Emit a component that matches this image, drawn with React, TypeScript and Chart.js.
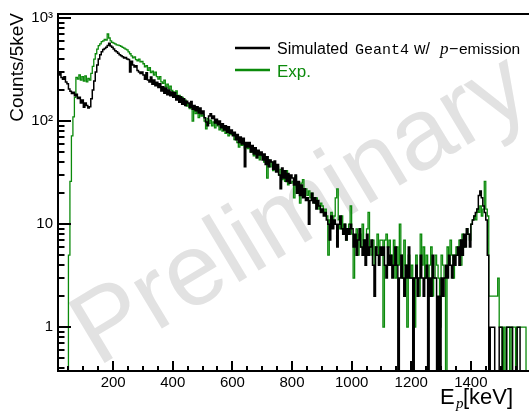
import React, { useEffect, useRef } from 'react';
import { Chart, registerables } from 'chart.js';

Chart.register(...registerables);

// histogram binning (keV)
const BIN_START = 0;
const BIN_WIDTH = 5;

// Simulated Geant4 w/ p-emission, counts per 5 keV bin starting at 0 keV (rows of 50 keV)
const simCounts = [
  285, 290, 270, 280, 300, 265, 255, 270, 240, 230,
  205, 195, 185, 190, 176, 182, 166, 170, 150, 160,
  136, 150, 142, 134, 138, 165, 200, 245, 300, 350,
  400, 440, 470, 495, 505, 520, 540, 570, 535, 520,
  500, 480, 470, 455, 440, 430, 420, 410, 415, 400,
  395, 300, 380, 350, 335, 345, 310, 300, 290, 300,
  280, 255, 295, 250, 240, 268, 228, 250, 220, 238,
  212, 230, 196, 215, 186, 210, 180, 200, 176, 192,
  170, 188, 160, 176, 152, 172, 146, 165, 142, 156,
  150, 136, 155, 130, 142, 126, 138, 120, 134, 118,
  125, 108, 98, 90, 112, 118, 106, 112, 96, 104,
  92, 100, 86, 94, 82, 90, 78, 88, 76, 82,
  72, 78, 66, 74, 62, 70, 60, 68, 36, 62,
  56, 62, 50, 58, 48, 55, 44, 52, 47, 50,
  42, 48, 38, 45, 36, 42, 40, 34, 41, 32,
  38, 30, 22, 35, 28, 33, 26, 31, 25, 30,
  28, 24, 30, 20, 26, 19, 24, 18, 22, 17,
  18, 10, 17, 20, 16, 18, 14, 17, 15, 13,
  14, 12, 13, 11, 10, 7, 12, 9, 11, 10,
  6, 10, 12, 9, 8, 10, 7, 9, 8, 10,
  9, 6, 8, 5, 7, 9, 6, 5, 7, 4,
  8, 5, 6, 7, 4, 2, 6, 5, 4, 6,
  5, 6, 4, 3, 6, 4, 5, 3, 4, 6,
  4, 0, 3, 5, 3, 2, 4, 3, 6, 3,
  3, 0, 3, 4, 2, 3, 5, 3, 2, 3,
  4, 0, 3, 2, 5, 3, 3, 0, 2, 0,
  3, 2, 3, 4, 3, 5, 4, 3, 5, 4,
  5, 6, 4, 7, 5, 8, 6, 9, 8, 6,
  10, 11, 12, 13, 14, 19, 21, 18, 15, 13,
  11, 5, 0, 1, 1, 1, 0, 0, 0, 1,
  1, 0, 0, 0, 1, 1, 1, 1, 0, 0,
  0, 1, 1, 0, 0, 0, 0, 0, 0, 0,
];

// Experimental data, counts per 5 keV bin starting at 0 keV (rows of 50 keV)
const expCounts = [
  0, 0, 0, 0, 0, 0, 0, 0, 0, 0,
  5, 26, 72, 110, 170, 265, 255, 280, 250, 270,
  245, 275, 240, 260, 250, 290, 340, 400, 450, 500,
  540, 560, 590, 600, 620, 610, 700, 640, 600, 580,
  570, 560, 550, 545, 540, 530, 520, 510, 500, 490,
  470, 450, 430, 410, 420, 395, 385, 400, 375, 380,
  360, 335, 345, 310, 330, 295, 305, 280, 298, 270,
  255, 270, 240, 232, 250, 215, 228, 205, 218, 198,
  192, 180, 196, 165, 178, 158, 170, 145, 160, 140,
  148, 132, 140, 100, 128, 118, 130, 108, 124, 112,
  115, 100, 84, 106, 95, 102, 90, 98, 86, 96,
  90, 82, 94, 80, 88, 76, 84, 72, 80, 74,
  76, 66, 72, 62, 56, 66, 58, 64, 55, 60,
  54, 60, 50, 56, 46, 52, 44, 50, 42, 48,
  46, 40, 44, 28, 42, 36, 40, 33, 38, 34,
  36, 30, 34, 27, 31, 26, 33, 24, 29, 25,
  26, 18, 29, 23, 21, 16, 25, 27, 20, 22,
  19, 21, 18, 20, 17, 16, 18, 15, 14, 16,
  15, 13, 14, 12, 5, 11, 13, 10, 12, 18,
  22, 11, 9, 12, 8, 10, 7, 9, 10, 15,
  8, 3, 7, 9, 5, 8, 6, 10, 7, 5,
  9, 13, 6, 5, 7, 4, 6, 8, 5, 7,
  7, 1, 7, 8, 6, 7, 5, 4, 7, 3,
  6, 4, 10, 5, 3, 7, 4, 1, 5, 3,
  4, 3, 1, 5, 3, 2, 8, 4, 6, 3,
  5, 3, 4, 6, 2, 3, 5, 4, 3, 1,
  5, 4, 3, 0, 6, 4, 7, 5, 3, 5,
  6, 5, 7, 4, 8, 6, 7, 9, 8, 7,
  10, 11, 12, 11, 14, 13, 15, 12, 14, 26,
  14, 12, 2, 2, 2, 2, 2, 2, 3, 1,
  1, 0, 1, 0, 1, 1, 0, 1, 1, 1,
  0, 1, 1, 1, 1, 1, 1, 0, 0, 0,
];

const xTickValues = [200, 400, 600, 800, 1000, 1200, 1400];
const yTickValues = [1, 10, 100, 1000];
const yTickLabels = ['1', '10', '10\u00B2', '10\u00B3'];

const X_MIN = 15;
const X_MAX = 1595;
const Y_MIN = 0.376;
const Y_MAX = 1094;

const BLACK = '#000000';
const GREEN = '#0b8a0b';

function toSteps(counts: number[]) {
  const pts = counts.map((c, i) => ({ x: BIN_START + i * BIN_WIDTH, y: c > 0 ? c : 0.05 }));
  pts.push({ x: BIN_START + counts.length * BIN_WIDTH, y: pts[pts.length - 1].y });
  return pts;
}

const decor = {
  id: 'decor',
  beforeDatasetsDraw(chart: any) {
    const { ctx } = chart;
    ctx.save();
    ctx.translate(316, 236);
    ctx.rotate((-31 * Math.PI) / 180);
    ctx.font = '102px "Liberation Sans"';
    ctx.fillStyle = '#e2e2e2';
    ctx.textAlign = 'center';
    ctx.textBaseline = 'alphabetic';
    ctx.fillText('Preliminary', 0, 0);
    ctx.restore();
  },
  afterDatasetsDraw(chart: any) {
    const { ctx, chartArea: a, scales } = chart;
    const xs = scales.x;
    const ys = scales.y;
    ctx.save();
    ctx.strokeStyle = '#000';
    ctx.lineWidth = 2;
    ctx.beginPath();
    for (let v = 50; v < X_MAX; v += 50) {
      if (v < X_MIN) continue;
      const px = Math.round(xs.getPixelForValue(v));
      const len = v % 200 === 0 ? 10 : 5;
      ctx.moveTo(px, a.bottom);
      ctx.lineTo(px, a.bottom - len);
    }
    for (let e = -1; e <= 3; e++) {
      for (let m = 1; m < 10; m++) {
        const v = m * Math.pow(10, e);
        if (v < Y_MIN || v > Y_MAX) continue;
        const py = Math.round(ys.getPixelForValue(v));
        const len = m === 1 ? 13 : 6.5;
        ctx.moveTo(a.left, py);
        ctx.lineTo(a.left + len, py);
      }
    }
    ctx.stroke();
    // frame
    ctx.beginPath();
    ctx.moveTo(a.right + 2, a.top);
    ctx.lineTo(a.left, a.top);
    ctx.lineTo(a.left, a.bottom);
    ctx.lineTo(a.right + 2, a.bottom);
    ctx.stroke();
    ctx.restore();
  },
  afterDraw(chart: any) {
    const { ctx } = chart;
    ctx.save();
    ctx.fillStyle = '#000';
    // y title
    ctx.save();
    ctx.translate(23, 13);
    ctx.rotate(-Math.PI / 2);
    ctx.font = '19px "Liberation Sans"';
    ctx.textAlign = 'right';
    ctx.textBaseline = 'alphabetic';
    ctx.fillText('Counts/5keV', 0, 0);
    ctx.restore();
    // x title
    ctx.textAlign = 'left';
    ctx.textBaseline = 'alphabetic';
    ctx.font = '22px "Liberation Sans"';
    ctx.fillText('E', 440, 404);
    ctx.font = 'italic 15px "Liberation Serif"';
    ctx.fillText('p', 456, 408);
    ctx.font = '22px "Liberation Sans"';
    ctx.fillText('[keV]', 463, 404);
    // legend
    ctx.lineWidth = 2.5;
    ctx.strokeStyle = BLACK;
    ctx.beginPath();
    ctx.moveTo(235, 48);
    ctx.lineTo(270, 48);
    ctx.stroke();
    ctx.strokeStyle = GREEN;
    ctx.beginPath();
    ctx.moveTo(235, 70);
    ctx.lineTo(270, 70);
    ctx.stroke();
    ctx.fillStyle = BLACK;
    ctx.font = '16px "Liberation Sans"';
    ctx.fillText('Simulated', 277, 54);
    ctx.font = '15px "Liberation Mono"';
    ctx.fillText('Geant4', 355, 54);
    ctx.font = '16px "Liberation Sans"';
    ctx.fillText('w/', 414, 54);
    ctx.font = 'italic 17px "Liberation Serif"';
    ctx.fillText('p', 440, 54);
    ctx.font = '16px "Liberation Sans"';
    ctx.fillText('\u2212', 449, 54);
    ctx.font = '15.5px "Liberation Sans"';
    ctx.fillText('emission', 459, 54);
    ctx.fillStyle = GREEN;
    ctx.font = '17px "Liberation Sans"';
    ctx.fillText('Exp.', 277, 77);
    ctx.restore();
  },
};

export default function App() {
  const ref = useRef<HTMLCanvasElement>(null);
  useEffect(() => {
    const canvas = ref.current;
    if (!canvas) return;
    const chart = new Chart(canvas, {
      type: 'line',
      data: {
        datasets: [
          {
            label: 'Simulated Geant4 w/ p-emission',
            data: toSteps(simCounts),
            borderColor: BLACK,
            borderWidth: 1.5,
            stepped: true,
            pointRadius: 0,
            fill: false,
            clip: 0,
          },
          {
            label: 'Exp.',
            data: toSteps(expCounts),
            borderColor: GREEN,
            borderWidth: 1.3,
            stepped: true,
            pointRadius: 0,
            fill: false,
            clip: 0,
          },
        ],
      } as any,
      options: {
        animation: false,
        responsive: false,
        events: [],
        layout: { padding: { top: 10, right: 0, left: 0, bottom: 0 } },
        plugins: { legend: { display: false }, tooltip: { enabled: false } },
        scales: {
          x: {
            type: 'linear',
            min: X_MIN,
            max: X_MAX,
            grid: { display: false, drawTicks: false },
            border: { display: false },
            afterFit(s: any) {
              s.height = 41;
            },
            afterBuildTicks(s: any) {
              s.ticks = xTickValues.map((v) => ({ value: v }));
            },
            ticks: {
              color: '#000',
              font: { family: 'Liberation Sans', size: 15 },
              padding: 3,
              maxRotation: 0,
              autoSkip: false,
              callback: (v: any) => String(v),
            },
          },
          y: {
            type: 'logarithmic',
            min: Y_MIN,
            max: Y_MAX,
            grid: { display: false, drawTicks: false },
            border: { display: false },
            afterFit(s: any) {
              s.width = 58;
            },
            afterBuildTicks(s: any) {
              s.ticks = yTickValues.map((v) => ({ value: v }));
            },
            ticks: {
              color: '#000',
              font: { family: 'Liberation Sans', size: 15 },
              padding: 5,
              autoSkip: false,
              callback: (v: any) => {
                const i = yTickValues.indexOf(Number(v));
                return i >= 0 ? yTickLabels[i] : '';
              },
            },
          },
        },
      } as any,
      plugins: [decor],
    });
    return () => chart.destroy();
  }, []);
  return (
    <div style={{ position: 'fixed', left: 0, top: 0, width: 529, height: 412, background: '#fff' }}>
      <canvas ref={ref} width={529} height={412} style={{ display: 'block', width: 529, height: 412 }} />
    </div>
  );
}
